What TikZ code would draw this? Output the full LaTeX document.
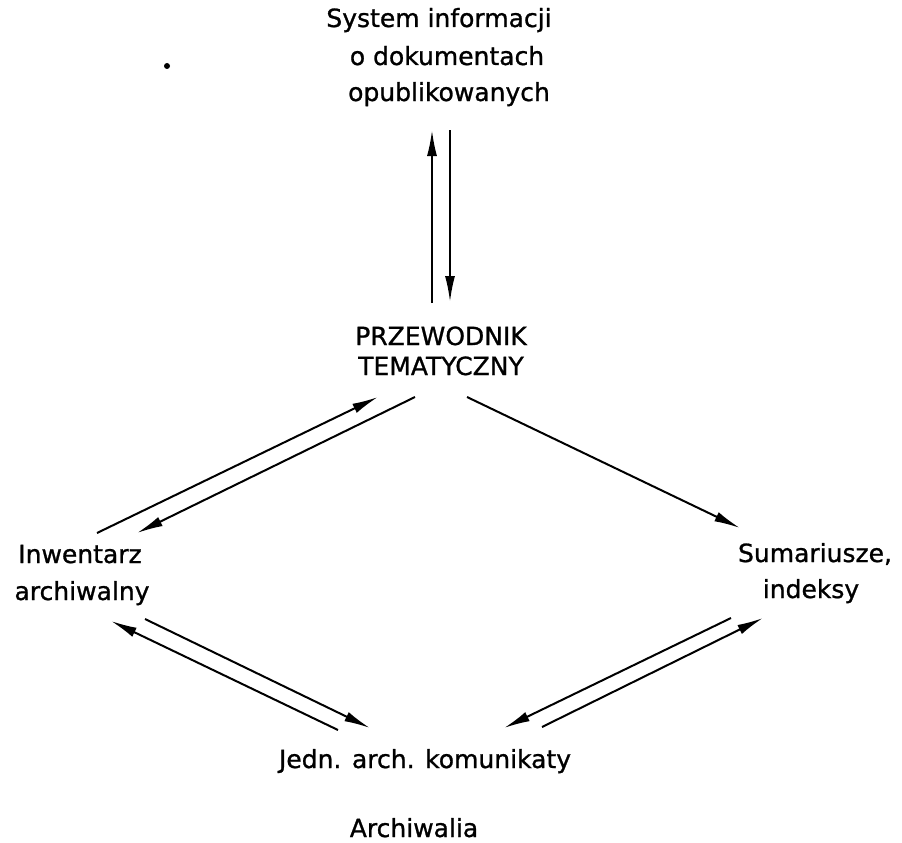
\documentclass[tikz,border=0pt]{standalone}
\usepackage{fontspec}
\setmainfont{DejaVu Sans}[FakeBold=1]
\usetikzlibrary{arrows.meta}
\begin{document}
\begin{tikzpicture}[x=1pt,y=-1pt,
  lbl/.style={anchor=base,inner sep=0pt,font=\fontsize{25}{30}\selectfont},
  arr/.style={line width=2pt,-{Latex[length=26pt,width=10pt]}}]
\useasboundingbox (0,0) rectangle (902,843);
% texts
\node[lbl] (top1) at (439,27) {System informacji};
\node[lbl] (top2) at (447,65) {o dokumentach};
\node[lbl] (top3) at (449,101) {opublikowanych};
\node[lbl] (prz1) at (441,345) {PRZEWODNIK};
\node[lbl] (prz2) at (441,375) {TEMATYCZNY};
\node[lbl] (inw1) at (80,563) {Inwentarz};
\node[lbl] (inw2) at (82,600) {archiwalny};
\node[lbl] (sum1) at (815,562) {Sumariusze,};
\node[lbl] (sum2) at (811,598) {indeksy};
\node[lbl] (jedn) at (425,768) {Jedn. arch. komunikaty};
\node[lbl] (arch) at (414,837) {Archiwalia};
% connector end points
\coordinate (a1s) at (432,303); \coordinate (a1e) at (432,130);
\coordinate (a2s) at (450,130); \coordinate (a2e) at (450,302);
\coordinate (a3s) at (97,533);  \coordinate (a3e) at (378,397);
\coordinate (a4s) at (415,397); \coordinate (a4e) at (137,533);
\coordinate (a5s) at (467,397); \coordinate (a5e) at (740,528);
\coordinate (a6s) at (338,730); \coordinate (a6e) at (111,621);
\coordinate (a7s) at (145,619); \coordinate (a7e) at (370,728);
\coordinate (a8s) at (731,618); \coordinate (a8e) at (504,728);
\coordinate (a9s) at (542,727); \coordinate (a9e) at (763,618);
\draw[arr] (a1s) -- (a1e);
\draw[arr] (a2s) -- (a2e);
\draw[arr] (a3s) -- (a3e);
\draw[arr] (a4s) -- (a4e);
\draw[arr] (a5s) -- (a5e);
\draw[arr] (a6s) -- (a6e);
\draw[arr] (a7s) -- (a7e);
\draw[arr] (a8s) -- (a8e);
\draw[arr] (a9s) -- (a9e);
% stray speck
\fill (167,66) circle (3);
\end{tikzpicture}
\end{document}
